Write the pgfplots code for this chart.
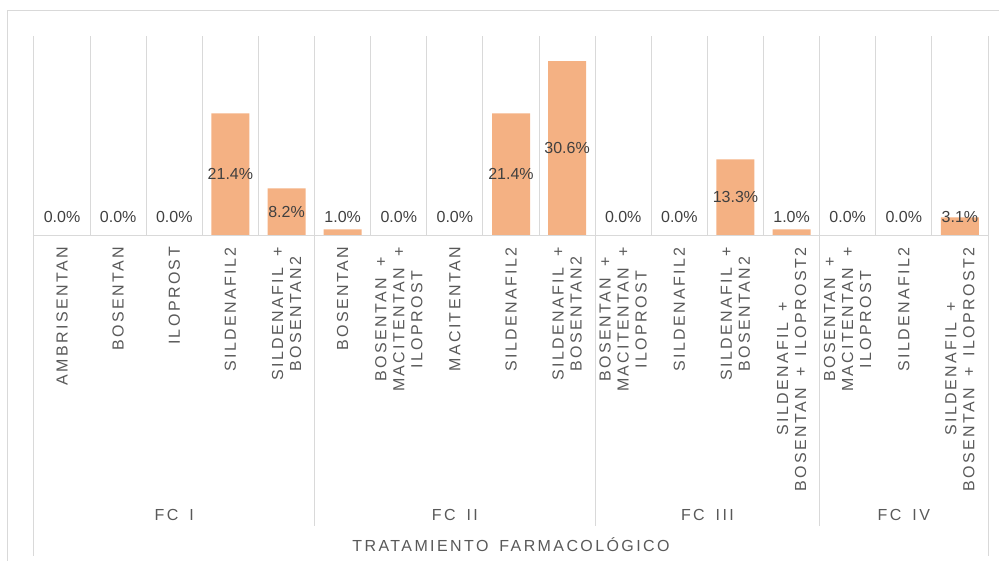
\documentclass[border=0pt]{standalone}
\usepackage{fontspec}
\setmainfont{Liberation Sans}
\newfontfamily\spaced{Liberation Sans}[LetterSpace=15, WordSpace=1.6]
\usepackage{pgfplots}
\pgfplotsset{compat=1.18}
\definecolor{barc}{HTML}{F4B183}
\definecolor{gridc}{HTML}{D9D9D9}
\definecolor{txtc}{HTML}{595959}
\definecolor{lblc}{HTML}{404040}
\pgfplotstableread{
x y ly
0 0.0 3.2
1 0.0 3.2
2 0.0 3.2
3 21.4 10.7
4 8.2 4.1
5 1.0 3.2
6 0.0 3.2
7 0.0 3.2
8 21.4 10.7
9 30.6 15.3
10 0.0 3.2
11 0.0 3.2
12 13.3 6.65
13 1.0 3.2
14 0.0 3.2
15 0.0 3.2
16 3.1 3.2
}\datatable
\begin{document}
\begin{tikzpicture}
\path[use as bounding box] (-34pt,-325pt) rectangle (965pt,235pt);
% outer chart border
\draw[gridc, line width=1pt] (-26pt,-330pt) -- (-26pt,224pt) -- (970pt,224pt);
\begin{axis}[
  at={(0pt,0pt)}, anchor=south west,
  scale only axis,
  width=954pt, height=199pt,
  xmin=-0.5, xmax=16.5, ymin=0, ymax=35,
  axis line style={draw=none},
  ytick=\empty,
  xtick={0,...,16},
  minor xtick={-0.5,0.5,...,16.5},
  xminorgrids=true, xmajorgrids=false,
  minor grid style={gridc, line width=1pt},
  major tick length=0pt, minor tick length=0pt,
  xtick style={draw=none},
  xticklabel shift=12pt,
  xticklabel style={rotate=90, anchor=east, align=center, inner sep=0pt,
    font=\spaced\fontsize{16}{18}\selectfont, text=txtc},
  xticklabels={
    {AMBRISENTAN},
    {BOSENTAN},
    {ILOPROST},
    {SILDENAFIL2},
    {SILDENAFIL +\\BOSENTAN2},
    {BOSENTAN},
    {BOSENTAN +\\MACITENTAN +\\ILOPROST},
    {MACITENTAN},
    {SILDENAFIL2},
    {SILDENAFIL +\\BOSENTAN2},
    {BOSENTAN +\\MACITENTAN +\\ILOPROST},
    {SILDENAFIL2},
    {SILDENAFIL +\\BOSENTAN2},
    {SILDENAFIL +\\BOSENTAN + ILOPROST2},
    {BOSENTAN +\\MACITENTAN +\\ILOPROST},
    {SILDENAFIL2},
    {SILDENAFIL +\\BOSENTAN + ILOPROST2}
  },
  clip=false,
]
\addplot[ybar, bar width=38pt, fill=barc, draw=none] table[x=x, y=y] {\datatable};
\addplot[draw=none, mark=none,
  nodes near coords={\pgfmathprintnumber[fixed, fixed zerofill, precision=1, assume math mode=true]{\pgfplotspointmeta}\%},
  point meta=explicit,
  every node near coord/.append style={anchor=center, inner sep=0pt, text=lblc,
    font=\fontsize{16}{18}\selectfont}]
  table[x=x, y=ly, meta=y] {\datatable};
\end{axis}
% baseline
\draw[gridc, line width=1pt] (0pt,0pt) -- (954pt,0pt);
% outer vertical lines of category area
\draw[gridc, line width=1pt] (0pt,0pt) -- (0pt,-321pt);
\draw[gridc, line width=1pt] (954pt,0pt) -- (954pt,-321pt);
% group separators
\foreach \g in {5,10,14} {
  \draw[gridc, line width=1pt] ({\g*954/17*1pt},0pt) -- ({\g*954/17*1pt},-291pt);
}
% group labels
\begin{scope}[every node/.style={text=txtc, font=\spaced\fontsize{16}{18}\selectfont, inner sep=0pt}]
\node at ({2.5*954/17*1pt},-280pt) {FC I};
\node at ({7.5*954/17*1pt},-280pt) {FC II};
\node at ({12*954/17*1pt},-280pt) {FC III};
\node at ({15.5*954/17*1pt},-280pt) {FC IV};
\node at (477pt,-310pt) {TRATAMIENTO FARMACOLÓGICO};
\end{scope}
\end{tikzpicture}
\end{document}
